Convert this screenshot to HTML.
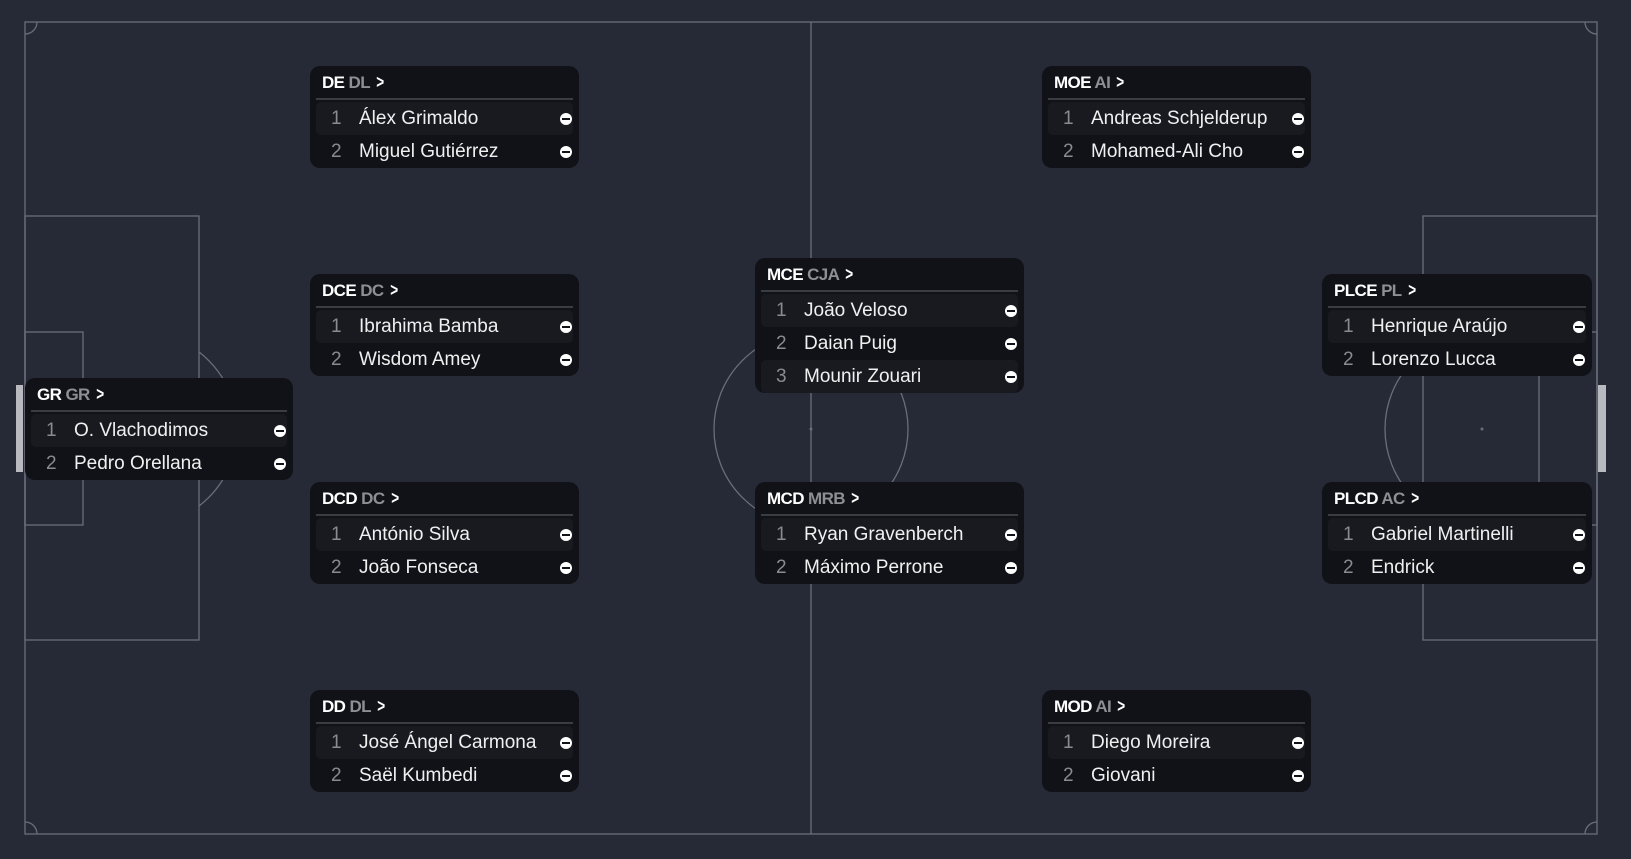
<!DOCTYPE html>
<html><head><meta charset="utf-8"><style>
*{margin:0;padding:0;box-sizing:border-box}
body{width:1631px;height:859px;background:#262936;position:relative;overflow:hidden;font-family:"Liberation Sans",sans-serif}
svg{position:absolute;left:0;top:0}
.card{position:absolute;width:269px;background:#111217;border-radius:10px;padding:0 6px 0 6px}
.hd{height:34px;border-bottom:2px solid #3a3c44;padding-left:6px;font-weight:bold;font-size:17px;color:#fff;line-height:32px;letter-spacing:-0.6px}
.hd span{color:#8e8f94}
.hd b{display:inline-block;margin-left:5px;font-size:18px;transform:scaleX(0.75)}
.sp{height:2px}
.row{height:33px;position:relative;border-radius:5px;font-size:19px;color:#f0f0f0;line-height:33px}
.row.a{background:#191a20}
.row .n{position:absolute;left:15px;color:#8a8b90}
.row .t{position:absolute;left:43px}
.row .m{position:absolute;right:1px;top:11px;width:12px;height:12px;border-radius:50%;background:#fff}
.row .m:after{content:"";position:absolute;left:2px;top:5px;width:8px;height:2px;background:#111217}
</style></head><body>
<svg width="1631" height="859">
<defs><clipPath id="cl"><rect x="199" y="0" width="1224" height="859"/></clipPath></defs>
<g fill="none" stroke="#6b6e7a" stroke-width="1.3">
<rect x="25" y="22" width="1572" height="812"/>
<line x1="811" y1="22" x2="811" y2="834"/>
<circle cx="811" cy="429" r="97"/>
<rect x="25" y="216" width="174" height="424"/>
<rect x="25" y="332" width="58" height="193"/>
<rect x="1423" y="216" width="174" height="424"/>
<rect x="1539" y="332" width="58" height="193"/>
<g clip-path="url(#cl)"><circle cx="140" cy="429" r="97"/><circle cx="1482" cy="429" r="97"/></g>
<path d="M25 34 A12 12 0 0 0 37 22"/><path d="M1585 22 A12 12 0 0 0 1597 34"/>
<path d="M25 822 A12 12 0 0 1 37 834"/><path d="M1585 834 A12 12 0 0 1 1597 822"/>
</g>
<circle cx="811" cy="429" r="1.5" fill="#6b6e7a"/><circle cx="1482" cy="429" r="1.5" fill="#6b6e7a"/>
<rect x="16" y="385" width="7" height="87" fill="#b9bac0"/>
<rect x="1598" y="385" width="8" height="87" fill="#b9bac0"/>
</svg>

<div class="card" style="left:310px;top:66px"><div class="hd">DE <span>DL</span><b>&gt;</b></div><div class="sp"></div>
<div class="row a"><span class="n">1</span><span class="t">Álex Grimaldo</span><i class="m"></i></div>
<div class="row"><span class="n">2</span><span class="t">Miguel Gutiérrez</span><i class="m"></i></div></div>

<div class="card" style="left:310px;top:274px"><div class="hd">DCE <span>DC</span><b>&gt;</b></div><div class="sp"></div>
<div class="row a"><span class="n">1</span><span class="t">Ibrahima Bamba</span><i class="m"></i></div>
<div class="row"><span class="n">2</span><span class="t">Wisdom Amey</span><i class="m"></i></div></div>

<div class="card" style="left:310px;top:482px"><div class="hd">DCD <span>DC</span><b>&gt;</b></div><div class="sp"></div>
<div class="row a"><span class="n">1</span><span class="t">António Silva</span><i class="m"></i></div>
<div class="row"><span class="n">2</span><span class="t">João Fonseca</span><i class="m"></i></div></div>

<div class="card" style="left:310px;top:690px"><div class="hd">DD <span>DL</span><b>&gt;</b></div><div class="sp"></div>
<div class="row a"><span class="n">1</span><span class="t">José Ángel Carmona</span><i class="m"></i></div>
<div class="row"><span class="n">2</span><span class="t">Saël Kumbedi</span><i class="m"></i></div></div>

<div class="card" style="left:25px;top:378px;width:268px"><div class="hd">GR <span>GR</span><b>&gt;</b></div><div class="sp"></div>
<div class="row a"><span class="n">1</span><span class="t">O. Vlachodimos</span><i class="m"></i></div>
<div class="row"><span class="n">2</span><span class="t">Pedro Orellana</span><i class="m"></i></div></div>

<div class="card" style="left:755px;top:258px"><div class="hd">MCE <span>CJA</span><b>&gt;</b></div><div class="sp"></div>
<div class="row a"><span class="n">1</span><span class="t">João Veloso</span><i class="m"></i></div>
<div class="row"><span class="n">2</span><span class="t">Daian Puig</span><i class="m"></i></div>
<div class="row a"><span class="n">3</span><span class="t">Mounir Zouari</span><i class="m"></i></div></div>

<div class="card" style="left:755px;top:482px"><div class="hd">MCD <span>MRB</span><b>&gt;</b></div><div class="sp"></div>
<div class="row a"><span class="n">1</span><span class="t">Ryan Gravenberch</span><i class="m"></i></div>
<div class="row"><span class="n">2</span><span class="t">Máximo Perrone</span><i class="m"></i></div></div>

<div class="card" style="left:1042px;top:66px"><div class="hd">MOE <span>AI</span><b>&gt;</b></div><div class="sp"></div>
<div class="row a"><span class="n">1</span><span class="t">Andreas Schjelderup</span><i class="m"></i></div>
<div class="row"><span class="n">2</span><span class="t">Mohamed-Ali Cho</span><i class="m"></i></div></div>

<div class="card" style="left:1042px;top:690px"><div class="hd">MOD <span>AI</span><b>&gt;</b></div><div class="sp"></div>
<div class="row a"><span class="n">1</span><span class="t">Diego Moreira</span><i class="m"></i></div>
<div class="row"><span class="n">2</span><span class="t">Giovani</span><i class="m"></i></div></div>

<div class="card" style="left:1322px;top:274px;width:270px"><div class="hd">PLCE <span>PL</span><b>&gt;</b></div><div class="sp"></div>
<div class="row a"><span class="n">1</span><span class="t">Henrique Araújo</span><i class="m"></i></div>
<div class="row"><span class="n">2</span><span class="t">Lorenzo Lucca</span><i class="m"></i></div></div>

<div class="card" style="left:1322px;top:482px;width:270px"><div class="hd">PLCD <span>AC</span><b>&gt;</b></div><div class="sp"></div>
<div class="row a"><span class="n">1</span><span class="t">Gabriel Martinelli</span><i class="m"></i></div>
<div class="row"><span class="n">2</span><span class="t">Endrick</span><i class="m"></i></div></div>
</body></html>
